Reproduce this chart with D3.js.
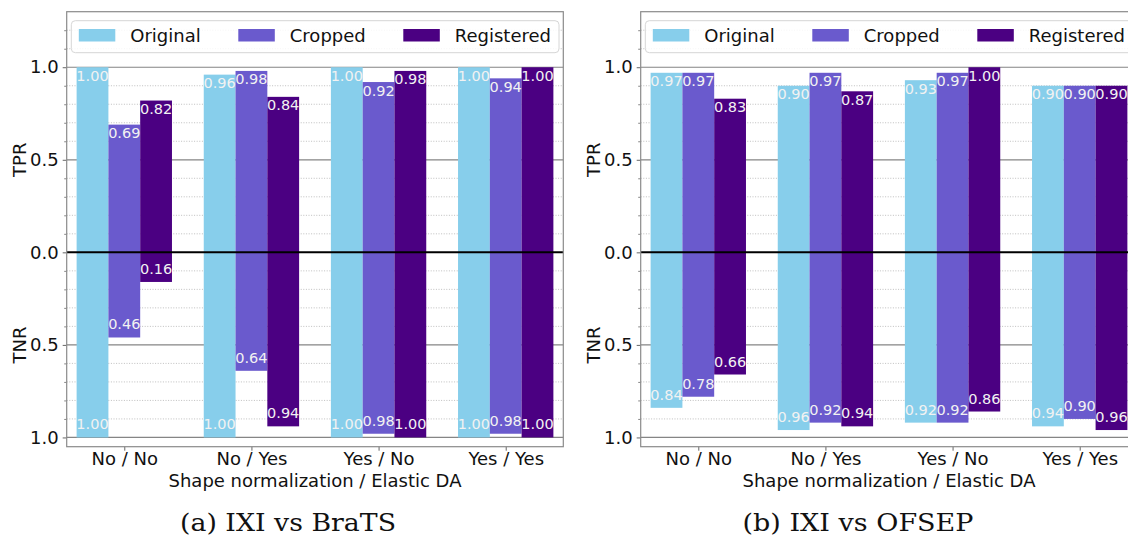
<!DOCTYPE html>
<html>
<head>
<meta charset="utf-8">
<script src="https://cdn.jsdelivr.net/npm/d3@7"></script>
<style>
  body { margin: 0; background: #fff; }
  svg text { font-family: "DejaVu Sans", sans-serif; }
</style>
</head>
<body>
<div id="app"></div>
<script>
const container = document.querySelector('#app');

const width = 1128;
const height = 537;

// categories and series
const categories = ["No / No", "No / Yes", "Yes / No", "Yes / Yes"];
const series = ["Original", "Cropped", "Registered"];
const colors = ["#87ceeb", "#6a5acd", "#4b0082"];

// (a) IXI vs BraTS
const brats_tpr = {
  Original:   [1.00, 0.96, 1.00, 1.00],
  Cropped:    [0.69, 0.98, 0.92, 0.94],
  Registered: [0.82, 0.84, 0.98, 1.00]
};
const brats_tnr = {
  Original:   [1.00, 1.00, 1.00, 1.00],
  Cropped:    [0.46, 0.64, 0.98, 0.98],
  Registered: [0.16, 0.94, 1.00, 1.00]
};

// (b) IXI vs OFSEP
const ofsep_tpr = {
  Original:   [0.97, 0.90, 0.93, 0.90],
  Cropped:    [0.97, 0.97, 0.97, 0.90],
  Registered: [0.83, 0.87, 1.00, 0.90]
};
const ofsep_tnr = {
  Original:   [0.84, 0.96, 0.92, 0.94],
  Cropped:    [0.78, 0.92, 0.92, 0.90],
  Registered: [0.66, 0.94, 0.86, 0.96]
};

const majorTicks = [-1, -0.5, 0, 0.5, 1];
const minorTicks = [-0.9, -0.8, -0.7, -0.6, -0.4, -0.3, -0.2, -0.1,
                    0.1, 0.2, 0.3, 0.4, 0.6, 0.7, 0.8, 0.9, 1.1, 1.2];

const svg = d3.create("svg")
    .attr("width", width)
    .attr("height", height);

function drawPanel(ox, tpr, tnr, caption, captionX, captionW) {
  const left = 66.7 + ox, right = 563.3 + ox;
  const top = 11.7, bottom = 446.7;

  const x = d3.scaleLinear().domain([-0.453, 3.453]).range([left, right]);
  const y = d3.scaleLinear().domain([-1.05, 1.3]).range([bottom, top]);
  const barW = x(0.25) - x(0);

  const g = svg.append("g");

  // minor grid
  g.append("g").selectAll("line").data(minorTicks).join("line")
    .attr("x1", left).attr("x2", right)
    .attr("y1", d => y(d)).attr("y2", d => y(d))
    .attr("stroke", "#b8b8b8").attr("stroke-width", 0.9)
    .attr("stroke-dasharray", "1,1.6");

  // major grid
  g.append("g").selectAll("line").data(majorTicks.filter(d => d !== 0)).join("line")
    .attr("x1", left).attr("x2", right)
    .attr("y1", d => y(d)).attr("y2", d => y(d))
    .attr("stroke", "#858585").attr("stroke-width", 1.2);

  // bars
  series.forEach((s, j) => {
    const off = (j - 1) * 0.25 - 0.125;
    g.append("g").selectAll("rect.tpr").data(tpr[s]).join("rect")
      .attr("x", (d, i) => x(i + off))
      .attr("width", barW)
      .attr("y", d => y(d))
      .attr("height", d => y(0) - y(d))
      .attr("fill", colors[j]);
    g.append("g").selectAll("rect.tnr").data(tnr[s]).join("rect")
      .attr("x", (d, i) => x(i + off))
      .attr("width", barW)
      .attr("y", y(0))
      .attr("height", d => y(-d) - y(0))
      .attr("fill", colors[j]);
  });

  // zero line
  g.append("line")
    .attr("x1", left).attr("x2", right)
    .attr("y1", y(0)).attr("y2", y(0))
    .attr("stroke", "#000").attr("stroke-width", 2);

  // bar labels
  series.forEach((s, j) => {
    const off = (j - 1) * 0.25;
    g.append("g").selectAll("text").data(tpr[s]).join("text")
      .attr("x", (d, i) => x(i + off))
      .attr("y", d => y(d) + 13.5)
      .attr("text-anchor", "middle")
      .attr("font-size", 14.5)
      .attr("fill", "#f2f2f2")
      .text(d => d.toFixed(2));
    g.append("g").selectAll("text").data(tnr[s]).join("text")
      .attr("x", (d, i) => x(i + off))
      .attr("y", d => y(-d) - 8)
      .attr("text-anchor", "middle")
      .attr("font-size", 14.5)
      .attr("fill", "#f2f2f2")
      .text(d => d.toFixed(2));
  });

  // y axis (major + minor ticks)
  const yAxis = g.append("g")
    .attr("transform", `translate(${left},0)`)
    .call(d3.axisLeft(y).tickValues(majorTicks).tickSize(4).tickPadding(4)
      .tickFormat(d => Math.abs(d).toFixed(1)));
  yAxis.select(".domain").remove();
  yAxis.selectAll("line").attr("stroke", "#666");
  yAxis.selectAll("text").attr("font-size", 18).attr("fill", "#111")
    .attr("font-family", "DejaVu Sans");

  const yMinor = g.append("g")
    .attr("transform", `translate(${left},0)`)
    .call(d3.axisLeft(y).tickValues(minorTicks).tickSize(2.5).tickFormat(""));
  yMinor.select(".domain").remove();
  yMinor.selectAll("line").attr("stroke", "#888");

  // x axis
  const xAxis = g.append("g")
    .attr("transform", `translate(0,${bottom})`)
    .call(d3.axisBottom(x).tickValues(d3.range(categories.length))
      .tickSize(4).tickPadding(2).tickFormat(i => categories[i]));
  xAxis.select(".domain").remove();
  xAxis.selectAll("line").attr("stroke", "#666");
  xAxis.selectAll("text").attr("font-size", 18).attr("fill", "#111")
    .attr("font-family", "DejaVu Sans");

  // spines
  g.append("rect")
    .attr("x", left).attr("y", top)
    .attr("width", right - left).attr("height", bottom - top)
    .attr("fill", "none").attr("stroke", "#8a8a8a").attr("stroke-width", 1.2);

  // axis titles
  g.append("text")
    .attr("transform", `translate(${ox + 26},${y(0.5)}) rotate(-90)`)
    .attr("text-anchor", "middle").attr("font-size", 18).attr("fill", "#111")
    .text("TPR");
  g.append("text")
    .attr("transform", `translate(${ox + 26},${y(-0.5)}) rotate(-90)`)
    .attr("text-anchor", "middle").attr("font-size", 18).attr("fill", "#111")
    .text("TNR");
  g.append("text")
    .attr("x", (left + right) / 2).attr("y", 486.5)
    .attr("text-anchor", "middle").attr("font-size", 18).attr("fill", "#111")
    .text("Shape normalization / Elastic DA");

  // legend
  const lg = g.append("g");
  lg.append("rect")
    .attr("x", 71.3 + ox).attr("y", 20.7)
    .attr("width", 487.7).attr("height", 32)
    .attr("rx", 4)
    .attr("fill", "white").attr("fill-opacity", 0.85)
    .attr("stroke", "#d6d6d6");
  const legX = [78.8, 238.3, 403.3];
  series.forEach((s, j) => {
    lg.append("rect")
      .attr("x", legX[j] + ox).attr("y", 29)
      .attr("width", 36.5).attr("height", 12.5)
      .attr("fill", colors[j]);
    lg.append("text")
      .attr("x", legX[j] + ox + 51.5).attr("y", 41.8)
      .attr("font-size", 18).attr("fill", "#111")
      .text(s);
  });

  // caption
  svg.append("text")
    .attr("x", captionX).attr("y", 531)
    .attr("text-anchor", "middle")
    .style("font-family", "'DejaVu Serif', serif")
    .attr("font-size", 23.5)
    .attr("textLength", captionW)
    .attr("lengthAdjust", "spacingAndGlyphs")
    .attr("fill", "#111")
    .text(caption);
}

drawPanel(0, brats_tpr, brats_tnr, "(a) IXI vs BraTS", 288, 216);
drawPanel(574, ofsep_tpr, ofsep_tnr, "(b) IXI vs OFSEP", 858, 231);

container.append(svg.node());
</script>
</body>
</html>
